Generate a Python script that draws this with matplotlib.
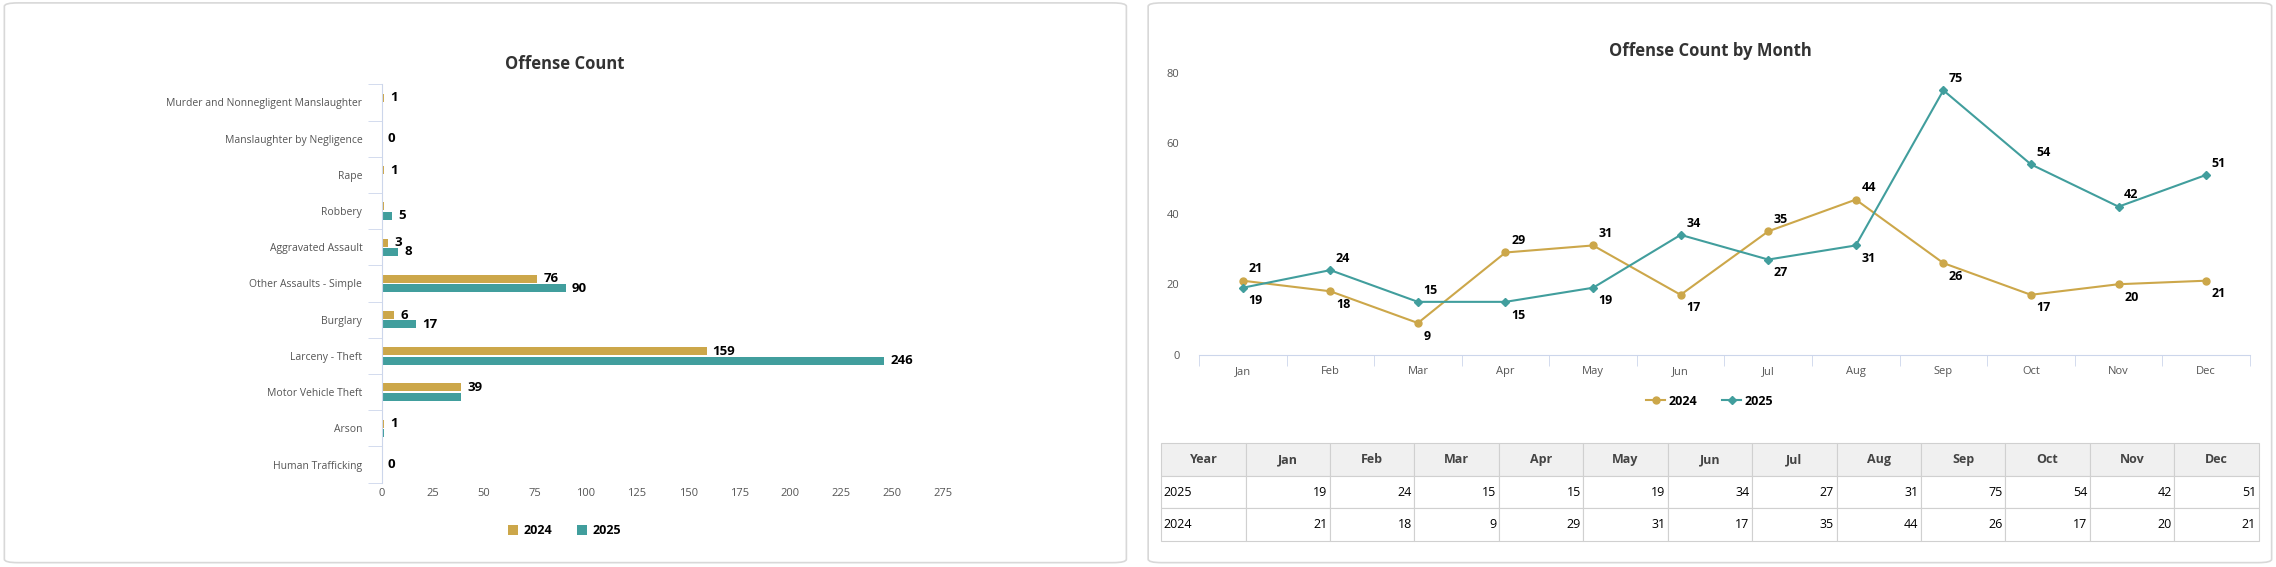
import matplotlib
matplotlib.use("Agg")
import matplotlib.pyplot as plt
from matplotlib.patches import FancyBboxPatch

GOLD = "#cca74a"
TEAL = "#419e9d"

offenses = [
    "Murder and Nonnegligent Manslaughter", "Manslaughter by Negligence", "Rape",
    "Robbery", "Aggravated Assault", "Other Assaults - Simple", "Burglary",
    "Larceny - Theft", "Motor Vehicle Theft", "Arson", "Human Trafficking",
]
off_2024 = [1, 0, 1, 1, 3, 76, 6, 159, 39, 1, 0]
off_2025 = [0, 0, 0, 5, 8, 90, 17, 246, 39, 1, 0]

months = ["Jan", "Feb", "Mar", "Apr", "May", "Jun", "Jul", "Aug", "Sep", "Oct", "Nov", "Dec"]
month_2024 = [21, 18, 9, 29, 31, 17, 35, 44, 26, 17, 20, 21]
month_2025 = [19, 24, 15, 15, 19, 34, 27, 31, 75, 54, 42, 51]

W, H = 1568, 390
fig = plt.figure(figsize=(22.76, 5.67), dpi=100)
plt.rcParams["font.family"] = "Open Sans"


def fx(x):
    return x / W


def fy(y):
    return 1 - y / H


for x0, x1 in [(3, 776), (791, 1565)]:
    box = FancyBboxPatch((fx(x0), fy(387)), fx(x1 - x0), 385 / H,
                         boxstyle="round,pad=0,rounding_size=0.006",
                         transform=fig.transFigure, fc="white", ec="#d8d8d8", lw=1.2, zorder=-10)
    fig.patches.append(box)

# ---- bar chart
ax = fig.add_axes([fx(263), fy(332), fx(650 - 263), (332 - 58) / H])
ax.patch.set_alpha(0)
n = len(offenses)
ys = list(range(n))
h = 0.22
b1 = ax.barh([y - h / 2 - 0.02 for y in ys], off_2024, height=h, color=GOLD)
b2 = ax.barh([y + h / 2 + 0.02 for y in ys], off_2025, height=h, color=TEAL)
for i in ys:
    if off_2024[i] == 0 and off_2025[i] == 0:
        ax.text(3, i, "0", va="center", fontsize=9.5, fontweight="bold")
        continue
    if off_2024[i] > 0 and i != 3:
        ax.text(off_2024[i] + 3, i - h / 2 - 0.02, str(off_2024[i]), va="center",
                fontsize=9.5, fontweight="bold")
    if off_2025[i] > 0 and off_2025[i] != off_2024[i]:
        ax.text(off_2025[i] + 3, i + h / 2 + 0.02, str(off_2025[i]), va="center",
                fontsize=9.5, fontweight="bold")
ax.set_ylim(n - 0.5, -0.5)
ax.set_xlim(0, 275)
ax.set_xticks(range(0, 276, 25))
ax.set_yticks(ys)
ax.set_yticklabels(offenses, fontsize=7.5, color="#555")
ax.set_yticks([y + 0.5 for y in range(-1, n)], minor=True)
ax.tick_params(axis="y", which="major", length=0, pad=14)
ax.tick_params(axis="y", which="minor", length=10, color="#ccd6eb")
ax.tick_params(axis="x", length=0, labelsize=8, colors="#555")
for s in ["top", "right", "bottom"]:
    ax.spines[s].set_visible(False)
ax.spines["left"].set_color("#ccd6eb")
fig.text(fx(389), fy(44), "Offense Count", ha="center", va="center", fontsize=12, fontweight="bold", color="#333")
leg = ax.legend([b1, b2], ["2024", "2025"], loc="center", bbox_to_anchor=(fx(389), fy(365), 0, 0),
                bbox_transform=fig.transFigure, ncol=2, frameon=False, handletextpad=0.4,
                columnspacing=2, prop={"weight": "bold", "size": 9}, handlelength=0.8, handleheight=0.8)

# ---- line chart
ax2 = fig.add_axes([fx(826), fy(244), fx(1550 - 826), (244 - 50) / H])
ax2.patch.set_alpha(0)
xs = range(len(months))
l1, = ax2.plot(xs, month_2024, color=GOLD, marker="o", ms=5, lw=1.5)
l2, = ax2.plot(xs, month_2025, color=TEAL, marker="D", ms=4, lw=1.5)
for i in xs:
    a, b = month_2024[i], month_2025[i]
    ax2.annotate(str(a), (i, a), xytext=(4, 6 if a >= b else -12), textcoords="offset points",
                 ha="left", fontsize=9, fontweight="bold")
    ax2.annotate(str(b), (i, b), xytext=(4, 6 if b > a else -12), textcoords="offset points",
                 ha="left", fontsize=9, fontweight="bold")
ax2.set_xlim(-0.5, 11.5)
ax2.set_ylim(0, 80)
ax2.set_yticks(range(0, 81, 20))
ax2.set_xticks(xs)
ax2.set_xticklabels(months)
ax2.set_xticks([x + 0.5 for x in range(-1, 12)], minor=True)
ax2.tick_params(axis="x", which="major", length=0, labelsize=8, colors="#555", pad=8)
ax2.tick_params(axis="x", which="minor", length=8, color="#ccd6eb")
ax2.tick_params(axis="y", length=0, labelsize=8, colors="#555", pad=14)
for s in ["top", "right", "left"]:
    ax2.spines[s].set_visible(False)
ax2.spines["bottom"].set_color("#ccd6eb")
fig.text(fx(1178), fy(35), "Offense Count by Month", ha="center", va="center", fontsize=12,
         fontweight="bold", color="#333")
ax2.legend([l1, l2], ["2024", "2025"], loc="center", bbox_to_anchor=(fx(1178), fy(276), 0, 0),
           bbox_transform=fig.transFigure, ncol=2, frameon=False, handletextpad=0.3,
           columnspacing=2, prop={"weight": "bold", "size": 9}, handlelength=1.5)

# ---- table
ax3 = fig.add_axes([fx(800), fy(372), fx(1556 - 800), (372 - 305) / H])
ax3.axis("off")
rows = [["2025"] + [str(v) for v in month_2025], ["2024"] + [str(v) for v in month_2024]]
tbl = ax3.table(cellText=rows, colLabels=["Year"] + months, loc="upper left",
                bbox=[0, 0, 1, 1], cellLoc="right")
tbl.auto_set_font_size(False)
for (r, c), cell in tbl.get_celld().items():
    cell.set_edgecolor("#d0d0d0")
    cell.set_linewidth(0.8)
    cell.set_fontsize(9)
    cell.PAD = 0.03
    if r == 0:
        cell.set_facecolor("#f0f0f0")
        cell.get_text().set_ha("center")
        cell.get_text().set_fontweight("bold")
        cell.get_text().set_color("#444")
    elif c == 0:
        cell.get_text().set_ha("left")

fig.savefig("out.png", dpi=100)
